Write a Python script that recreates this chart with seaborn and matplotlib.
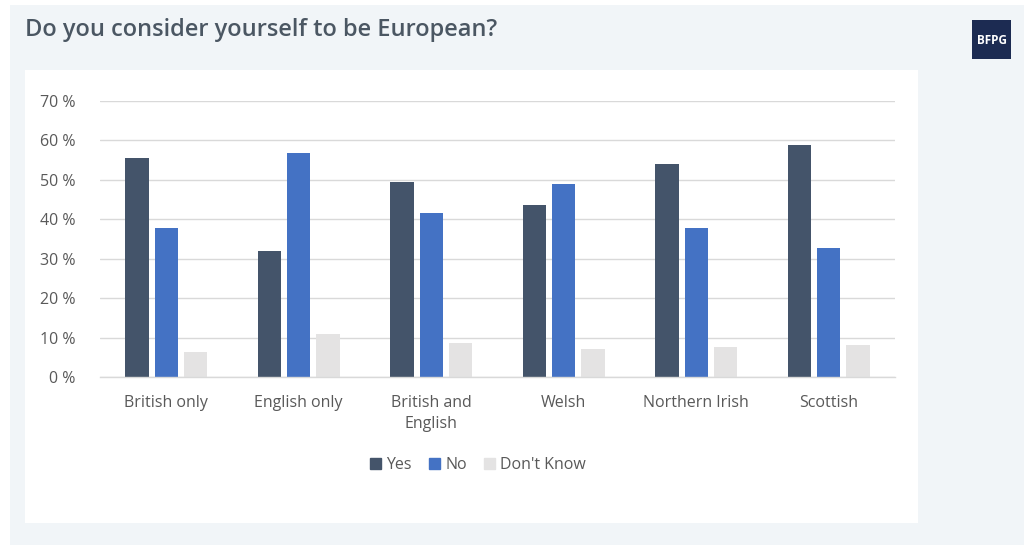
import pandas as pd
import matplotlib.pyplot as plt
import matplotlib.patches as mpatches
import seaborn as sns

categories = ['British only', 'English only', 'British and\nEnglish', 'Welsh', 'Northern Irish', 'Scottish']
yes_vals = [55.5, 32.0, 49.5, 43.7, 54.0, 58.8]
no_vals = [37.8, 56.8, 41.6, 48.9, 37.9, 32.8]
dk_vals = [6.4, 10.8, 8.6, 7.1, 7.7, 8.0]
series = ['Yes', 'No', "Don't Know"]
colors = ['#44546a', '#4472c4', '#e4e3e3']

df = pd.DataFrame({
    'category': categories * 3,
    'answer': [s for s in series for _ in categories],
    'value': yes_vals + no_vals + dk_vals,
})

sns.set_theme(style='white')
plt.rcParams['font.family'] = ['Open Sans', 'DejaVu Sans']

fig = plt.figure(figsize=(10.24, 5.45), dpi=100)
fig.patch.set_facecolor('white')

# page background panel and white card
fig.patches.append(mpatches.Rectangle((10 / 1024, 0), 1 - 10 / 1024, 1 - 5 / 545,
                                      transform=fig.transFigure, facecolor='#f1f5f8',
                                      edgecolor='none', zorder=-2))
fig.patches.append(mpatches.Rectangle((25 / 1024, (545 - 523) / 545), (918 - 25) / 1024, (523 - 70) / 545,
                                      transform=fig.transFigure, facecolor='white',
                                      edgecolor='none', zorder=-1))

fig.text(25 / 1024, 1 - 30 / 545, 'Do you consider yourself to be European?',
         fontsize=17, fontweight='semibold', color='#4b5763', va='center', ha='left')

# BFPG logo box
fig.patches.append(mpatches.Rectangle((972 / 1024, 1 - 59 / 545), 39 / 1024, 39 / 545,
                                      transform=fig.transFigure, facecolor='#1c2b52',
                                      edgecolor='none', zorder=1))
fig.text(991.5 / 1024, 1 - 40 / 545, 'BFPG', fontsize=8.5, fontweight='bold', color='white',
         ha='center', va='center', zorder=2)

ax = fig.add_axes([100 / 1024, (545 - 377) / 545, 795 / 1024, 276 / 545])
ax.set_zorder(3)
ax.set_facecolor('none')
sns.barplot(data=df, x='category', y='value', hue='answer', palette=colors,
            width=0.66, gap=0.2, ax=ax, legend=False, saturation=1,
            edgecolor='none')

ax.set_ylim(0, 70)
ax.set_xlim(-0.5, 5.5)
ax.set_yticks(range(0, 71, 10))
ax.set_yticklabels([f'{v} %' for v in range(0, 71, 10)])
ax.yaxis.grid(True, color='#d9d9d9', linewidth=1)
ax.set_axisbelow(True)
for s in ['top', 'right', 'left']:
    ax.spines[s].set_visible(False)
ax.spines['bottom'].set_color('#d9d9d9')
ax.spines['bottom'].set_linewidth(1)
ax.tick_params(axis='y', labelsize=11.5, labelcolor='#595959', length=0, pad=18)
ax.tick_params(axis='x', labelsize=11.5, labelcolor='#595959', length=0, pad=13)
for lbl in ax.get_xticklabels():
    lbl.set_linespacing(1.45)
ax.set_xlabel('')
ax.set_ylabel('')

handles = [mpatches.Patch(color=c, label=s) for c, s in zip(colors, series)]
fig.legend(handles=handles, loc='center', bbox_to_anchor=(478 / 1024, (545 - 465) / 545),
           ncol=3, frameon=False, fontsize=11.5, handlelength=0.7, handleheight=0.7,
           handletextpad=0.3, columnspacing=1.1, labelcolor='#595959')

fig.savefig('out.png', dpi=100)
